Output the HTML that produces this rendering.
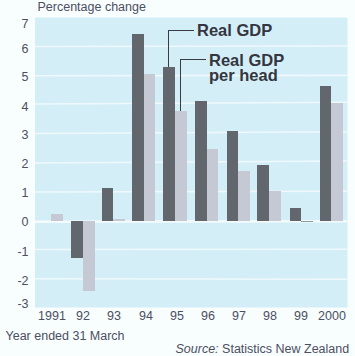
<!DOCTYPE html>
<html><head><meta charset="utf-8">
<style>
html,body{margin:0;padding:0;}
body{width:355px;height:356px;position:relative;overflow:hidden;background:#f8fdfe;font-family:"Liberation Sans",sans-serif;color:#4c4f62;}
.t{position:absolute;white-space:nowrap;font-size:12.5px;line-height:14px;}
.plot{position:absolute;left:35px;top:18px;width:312px;height:289px;background:#d4eef7;box-shadow:0 1px 0 #e6f6fb,1px 0 0 #e6f6fb,0 -1px 0 #e6f6fb;}
.g{position:absolute;left:35px;width:312px;height:1px;background:#f2fbfd;box-shadow:0 1px 0 #e4f5fa;}
.b{position:absolute;}
.d{background:#62676e;}
.l{background:#c4c9d3;}
.yl{position:absolute;width:20px;text-align:right;font-size:12.5px;line-height:14px;}
.xl{position:absolute;width:40px;text-align:center;font-size:12.5px;line-height:14px;}
.k{position:absolute;white-space:nowrap;font-weight:bold;font-size:16.5px;line-height:15.5px;color:#34363f;}
.ln{position:absolute;background:#3a3c44;}
</style></head><body>
<div class="t" style="left:37.5px;top:0px;">Percentage change</div>
<div class="plot"></div>
<svg style="position:absolute;left:0;top:0" width="355" height="356">
<g stroke="#eff9fc" stroke-width="1.6">
<line x1="35" y1="46.5" x2="347" y2="46"/>
<line x1="35" y1="75.7" x2="347" y2="75.4"/>
<line x1="35" y1="104" x2="347" y2="102.2"/>
<line x1="35" y1="133.5" x2="347" y2="131.7"/>
<line x1="35" y1="163" x2="347" y2="161"/>
<line x1="35" y1="192" x2="347" y2="191.3"/>
<line x1="35" y1="249.5" x2="347" y2="249.3"/>
<line x1="35" y1="278.8" x2="347" y2="279.2"/>
</g>
<line x1="35" y1="221.7" x2="347" y2="221.2" stroke="#f3fbfd" stroke-width="2.6"/>
</svg>

<div class="yl" style="left:8.5px;top:17px">7</div>
<div class="yl" style="left:8.5px;top:42px">6</div>
<div class="yl" style="left:8.5px;top:70px">5</div>
<div class="yl" style="left:8.5px;top:100px">4</div>
<div class="yl" style="left:8.5px;top:128px">3</div>
<div class="yl" style="left:8.5px;top:157px">2</div>
<div class="yl" style="left:8.5px;top:186px">1</div>
<div class="yl" style="left:8.5px;top:215px">0</div>
<div class="yl" style="left:8.5px;top:245px">-1</div>
<div class="yl" style="left:8.5px;top:274px">-2</div>
<div class="yl" style="left:8.5px;top:297px">-3</div>

<!-- bars -->
<div class="b l" style="left:51px;top:214px;width:12px;height:7px"></div>
<div class="b d" style="left:71px;top:221px;width:12px;height:37px"></div>
<div class="b l" style="left:83px;top:221px;width:12px;height:70px"></div>
<div class="b d" style="left:102px;top:188px;width:11px;height:33px"></div>
<div class="b l" style="left:113px;top:219px;width:12px;height:2px"></div>
<div class="b d" style="left:132px;top:34px;width:12px;height:187px"></div>
<div class="b l" style="left:144px;top:74px;width:11px;height:147px"></div>
<div class="b d" style="left:163px;top:67px;width:12px;height:154px"></div>
<div class="b l" style="left:175px;top:111px;width:12px;height:110px"></div>
<div class="b d" style="left:195px;top:101px;width:12px;height:120px"></div>
<div class="b l" style="left:207px;top:149px;width:11px;height:72px"></div>
<div class="b d" style="left:227px;top:131px;width:11px;height:90px"></div>
<div class="b l" style="left:238px;top:171px;width:12px;height:50px"></div>
<div class="b d" style="left:257px;top:165px;width:12px;height:56px"></div>
<div class="b l" style="left:269px;top:191px;width:12px;height:30px"></div>
<div class="b d" style="left:290px;top:208px;width:11px;height:13px"></div>
<div class="b" style="left:301px;top:221px;width:12px;height:1px;background:#9499a6"></div>
<div class="b d" style="left:320px;top:86px;width:11px;height:135px"></div>
<div class="b l" style="left:331px;top:103px;width:12px;height:118px"></div>

<!-- leaders -->
<div class="ln" style="left:168px;top:30px;width:1px;height:37px"></div>
<div class="ln" style="left:168px;top:30px;width:26px;height:1px"></div>
<div class="ln" style="left:180px;top:59px;width:1px;height:52px"></div>
<div class="ln" style="left:180px;top:59px;width:26px;height:1px"></div>

<div class="k" style="left:197px;top:22.5px">Real GDP</div>
<div class="k" style="left:209px;top:52.5px">Real GDP<br>per head</div>

<div class="xl" style="left:32px;top:309px">1991</div>
<div class="xl" style="left:63px;top:309px">92</div>
<div class="xl" style="left:94px;top:309px">93</div>
<div class="xl" style="left:126px;top:309px">94</div>
<div class="xl" style="left:157px;top:309px">95</div>
<div class="xl" style="left:188px;top:309px">96</div>
<div class="xl" style="left:219px;top:309px">97</div>
<div class="xl" style="left:250px;top:309px">98</div>
<div class="xl" style="left:281px;top:309px">99</div>
<div class="xl" style="left:312px;top:309px">2000</div>

<div class="t" style="left:5.5px;top:328.5px">Year ended 31 March</div>
<div class="t" style="left:175.5px;top:342px"><i>Source:</i> Statistics New Zealand</div>
</body></html>
